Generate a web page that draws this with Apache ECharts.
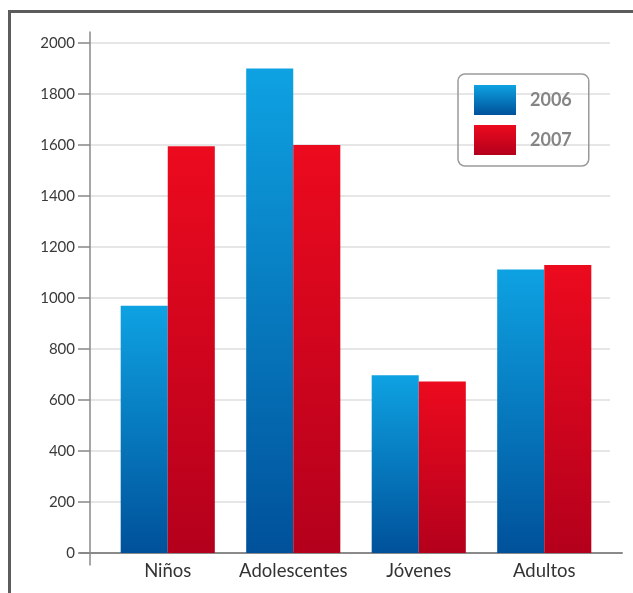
<!DOCTYPE html>
<html>
<head>
<meta charset="utf-8">
<script src="https://cdn.jsdelivr.net/npm/echarts@6/dist/echarts.min.js"></script>
<style>
html,body{margin:0;padding:0;background:#fff;}
#chart{width:633px;height:593px;position:relative;}
#frame{position:absolute;left:8px;top:10px;right:0;bottom:0;border-top:3px solid #5c5c5c;border-left:3px solid #5c5c5c;pointer-events:none;z-index:10;}
</style>
</head>
<body>
<div id="chart"></div>
<div id="frame"></div>
<script>
const categories = ['Niños', 'Adolescentes', 'Jóvenes', 'Adultos'];
const seriesNames = ['2006', '2007'];
const values2006 = [970, 1900, 697, 1112];
const values2007 = [1595, 1600, 673, 1129];
const yTicks = { min: 0, max: 2000, interval: 200 };

const chart = echarts.init(document.getElementById('chart'), null, { renderer: 'canvas' });
const font = 'Lato, "Open Sans", sans-serif';

const blue = new echarts.graphic.LinearGradient(0, 0, 0, 1, [
  { offset: 0, color: '#0ea2e2' },
  { offset: 1, color: '#00519a' }
]);
const red = new echarts.graphic.LinearGradient(0, 0, 0, 1, [
  { offset: 0, color: '#ec0a1e' },
  { offset: 1, color: '#b4001c' }
]);

const option = {
  animation: false,
  backgroundColor: '#fff',
  grid: [
    { left: 105, right: 26, top: 43, bottom: 40 },
    { left: 90, right: 23, top: 43, bottom: 40 },
    { left: 80, right: 11, top: 43, bottom: 40 },
    { left: 90, right: 23, top: 32, bottom: 28 }
  ],
  legend: {
    data: seriesNames,
    orient: 'vertical',
    left: 458,
    top: 74,
    icon: 'rect',
    itemWidth: 42,
    itemHeight: 30,
    itemGap: 10,
    padding: [11, 17, 11, 16],
    borderColor: '#9a9a9a',
    borderWidth: 1.5,
    borderRadius: 7,
    textStyle: { fontFamily: font, fontSize: 18, fontWeight: 'bold', color: '#858585', padding: [0, 0, 0, 9] }
  },
  xAxis: [
    {
      type: 'category', gridIndex: 0, data: categories,
      axisLine: { show: false }, axisTick: { show: false },
      axisLabel: { interval: 0, hideOverlap: false, fontFamily: font, fontSize: 18.5, color: '#333', margin: 9 }
    },
    { type: 'category', gridIndex: 1, data: categories, show: false },
    {
      type: 'value', gridIndex: 2, min: 0, max: 1,
      axisLine: { show: true, lineStyle: { color: '#8a8a8a', width: 2 } },
      axisTick: { show: false }, axisLabel: { show: false }, splitLine: { show: false }
    },
    { type: 'value', gridIndex: 3, min: 0, max: 1, show: false }
  ],
  yAxis: [
    { type: 'value', gridIndex: 0, min: yTicks.min, max: yTicks.max, interval: yTicks.interval, show: false },
    {
      type: 'value', gridIndex: 1, min: yTicks.min, max: yTicks.max, interval: yTicks.interval,
      axisLine: { show: false },
      axisTick: { show: true, inside: false, length: 12, lineStyle: { color: '#888', width: 1.5 } },
      axisLabel: { fontFamily: font, fontSize: 15, color: '#3a3a3a', margin: 15, formatter: (v) => String(v) },
      splitLine: { show: true, lineStyle: { color: '#dedede', width: 1.5 } }
    },
    { type: 'value', gridIndex: 2, min: 0, max: 1, show: false },
    {
      type: 'value', gridIndex: 3, min: 0, max: 1,
      axisLine: { show: true, lineStyle: { color: '#8a8a8a', width: 1.5 } },
      axisTick: { show: false }, axisLabel: { show: false }, splitLine: { show: false }
    }
  ],
  series: [
    {
      name: seriesNames[0], type: 'bar', xAxisIndex: 0, yAxisIndex: 0,
      data: values2006, itemStyle: { color: blue },
      barGap: '0%', barCategoryGap: '25%', z: 3
    },
    {
      name: seriesNames[1], type: 'bar', xAxisIndex: 0, yAxisIndex: 0,
      data: values2007, itemStyle: { color: red },
      barGap: '0%', barCategoryGap: '25%', z: 3
    }
  ]
};
chart.setOption(option);
</script>
</body>
</html>
